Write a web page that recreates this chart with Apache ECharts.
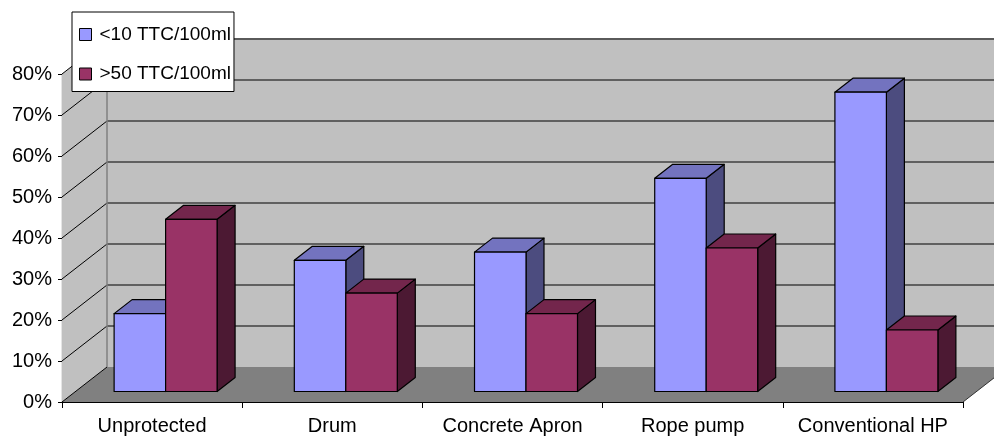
<!DOCTYPE html>
<html>
<head>
<meta charset="utf-8">
<script src="https://cdn.jsdelivr.net/npm/echarts@6/dist/echarts.min.js"></script>
<style>
  html, body { margin: 0; padding: 0; background: #fff; }
  #chart { width: 994px; height: 436px; }
</style>
</head>
<body>
<div id="chart"></div>
<script>
// Share of samples by thermotolerant coliform level, per wellhead type
const categories = ['Unprotected', 'Drum', 'Concrete Apron', 'Rope pump', 'Conventional HP'];
const below10 = [0.19, 0.32, 0.34, 0.52, 0.73];
const above50 = [0.42, 0.24, 0.19, 0.35, 0.15];
const seriesNames = ['<10 TTC/100ml', '>50 TTC/100ml'];
const yTicks = [0, 0.1, 0.2, 0.3, 0.4, 0.5, 0.6, 0.7, 0.8];

const FONT = "'Liberation Sans', Arial, sans-serif";

// Oblique projection: back wall offset from the front plane,
// bar front offset and bar depth
const WALL = [45, -35];
const BAR_OFF = [13.5, -10.5];
const BAR_D = [18, -14];

const FACE = {
  front: ['#9999FF', '#993366'],
  top:   ['#7373BF', '#73264C'],
  side:  ['#4C4C7F', '#4C1933']
};

function shiftPt(p, d) { return [p[0] + d[0], p[1] + d[1]]; }

// Back wall, left wall, floor and their grid lines
function renderWalls(params, api) {
  const cs = params.coordSys;
  const x0 = cs.x, x1 = cs.x + cs.width;
  const yTop = api.coord([0, yTicks[yTicks.length - 1]])[1];
  const yBot = api.coord([0, yTicks[0]])[1];
  const children = [];
  // back wall
  children.push({
    type: 'polygon',
    shape: { points: [shiftPt([x0, yTop], WALL), shiftPt([x1, yTop], WALL), shiftPt([x1, yBot], WALL), shiftPt([x0, yBot], WALL)] },
    style: { fill: '#C0C0C0', stroke: null }
  });
  // left wall
  children.push({
    type: 'polygon',
    shape: { points: [[x0, yTop], shiftPt([x0, yTop], WALL), shiftPt([x0, yBot], WALL), [x0, yBot]] },
    style: { fill: '#C0C0C0', stroke: null }
  });
  // floor
  children.push({
    type: 'polygon',
    shape: { points: [[x0, yBot], [x1, yBot], shiftPt([x1, yBot], WALL), shiftPt([x0, yBot], WALL)] },
    style: { fill: '#808080', stroke: null }
  });
  // grid lines on back wall and left wall
  yTicks.forEach(function (t, i) {
    const y = api.coord([0, t])[1];
    const back = shiftPt([x0, y], WALL);
    if (i > 0 && i < yTicks.length - 1) {
      children.push({
        type: 'line',
        shape: { x1: back[0], y1: back[1], x2: x1 + WALL[0], y2: back[1] },
        style: { stroke: '#000', lineWidth: 1 }
      });
    }
    children.push({
      type: 'line',
      shape: { x1: x0, y1: y, x2: back[0], y2: back[1] },
      style: { stroke: '#000', lineWidth: 1 }
    });
  });
  // back wall top edge
  children.push({
    type: 'line',
    shape: { x1: x0 + WALL[0], y1: yTop + WALL[1], x2: x1 + WALL[0], y2: yTop + WALL[1] },
    style: { stroke: '#5A5A5A', lineWidth: 2 }
  });
  // back wall left edge
  children.push({
    type: 'line',
    shape: { x1: x0 + WALL[0], y1: yTop + WALL[1], x2: x0 + WALL[0], y2: yBot + WALL[1] },
    style: { stroke: '#808080', lineWidth: 1.5 }
  });
  // floor right edge
  children.push({
    type: 'line',
    shape: { x1: x1, y1: yBot, x2: x1 + WALL[0], y2: yBot + WALL[1] },
    style: { stroke: '#333', lineWidth: 1 }
  });
  return { type: 'group', children: children };
}

function makeBarRenderer(si) {
  return function (params, api) {
    const cat = api.value(0), v = api.value(1);
    const base = api.coord([cat, 0]);
    const topP = api.coord([cat, v]);
    const band = api.size([1, 0])[0];
    const w = band / 3.5;
    const xl = base[0] + (si === 0 ? -w : 0) + BAR_OFF[0];
    const xr = xl + w;
    const yb = base[1] + BAR_OFF[1];
    const yt = topP[1] + BAR_OFF[1];
    const stroke = { stroke: '#000', lineWidth: 1.2, lineJoin: 'round' };
    return {
      type: 'group',
      children: [
        {
          type: 'polygon',
          shape: { points: [[xr, yt], shiftPt([xr, yt], BAR_D), shiftPt([xr, yb], BAR_D), [xr, yb]] },
          style: Object.assign({ fill: FACE.side[si] }, stroke)
        },
        {
          type: 'polygon',
          shape: { points: [[xl, yt], [xr, yt], shiftPt([xr, yt], BAR_D), shiftPt([xl, yt], BAR_D)] },
          style: Object.assign({ fill: FACE.top[si] }, stroke)
        },
        {
          type: 'rect',
          shape: { x: xl, y: yt, width: w, height: yb - yt },
          style: Object.assign({ fill: FACE.front[si] }, stroke)
        }
      ]
    };
  };
}

const chart = echarts.init(document.getElementById('chart'), null, { renderer: 'canvas' });

const option = {
  animation: false,
  backgroundColor: '#fff',
  color: FACE.front,
  textStyle: { fontFamily: FONT },
  grid: { left: 62, top: 74, width: 901, height: 328, containLabel: false },
  legend: {
    data: seriesNames,
    orient: 'vertical',
    left: 72,
    top: 12,
    padding: [13, 3, 8, 7],
    itemGap: 20.5,
    itemWidth: 12,
    itemHeight: 12,
    icon: 'rect',
    backgroundColor: '#fff',
    borderColor: '#000',
    borderWidth: 1,
    borderRadius: 0,
    itemStyle: { borderColor: '#000', borderWidth: 1 },
    textStyle: { fontFamily: FONT, fontSize: 19, color: '#000', padding: [0, 0, 0, 3] }
  },
  xAxis: {
    type: 'category',
    data: categories,
    boundaryGap: true,
    axisLine: { lineStyle: { color: '#000', width: 1.2 } },
    axisTick: { show: true, length: 6, lineStyle: { color: '#000' } },
    axisLabel: { color: '#000', fontFamily: FONT, fontSize: 20, margin: 14, interval: 0 },
    splitLine: { show: false }
  },
  yAxis: {
    type: 'value',
    min: 0,
    max: 0.8,
    interval: 0.1,
    axisLine: { show: true, lineStyle: { color: '#000', width: 1.2 } },
    axisTick: { show: true, length: 4, lineStyle: { color: '#000' } },
    axisLabel: {
      color: '#000', fontFamily: FONT, fontSize: 20, margin: 10,
      formatter: function (v) { return Math.round(v * 100) + '%'; }
    },
    splitLine: { show: false }
  },
  series: [
    {
      name: 'walls',
      type: 'custom',
      renderItem: renderWalls,
      data: [[0, 0]],
      encode: { x: 0, y: 1 },
      silent: true,
      z: 1
    },
    {
      name: seriesNames[0],
      type: 'custom',
      renderItem: makeBarRenderer(0),
      itemStyle: { color: FACE.front[0] },
      data: below10.map(function (v, i) { return [i, v]; }),
      encode: { x: 0, y: 1 },
      z: 2
    },
    {
      name: seriesNames[1],
      type: 'custom',
      renderItem: makeBarRenderer(1),
      itemStyle: { color: FACE.front[1] },
      data: above50.map(function (v, i) { return [i, v]; }),
      encode: { x: 0, y: 1 },
      z: 3
    }
  ]
};

chart.setOption(option);
</script>
</body>
</html>
